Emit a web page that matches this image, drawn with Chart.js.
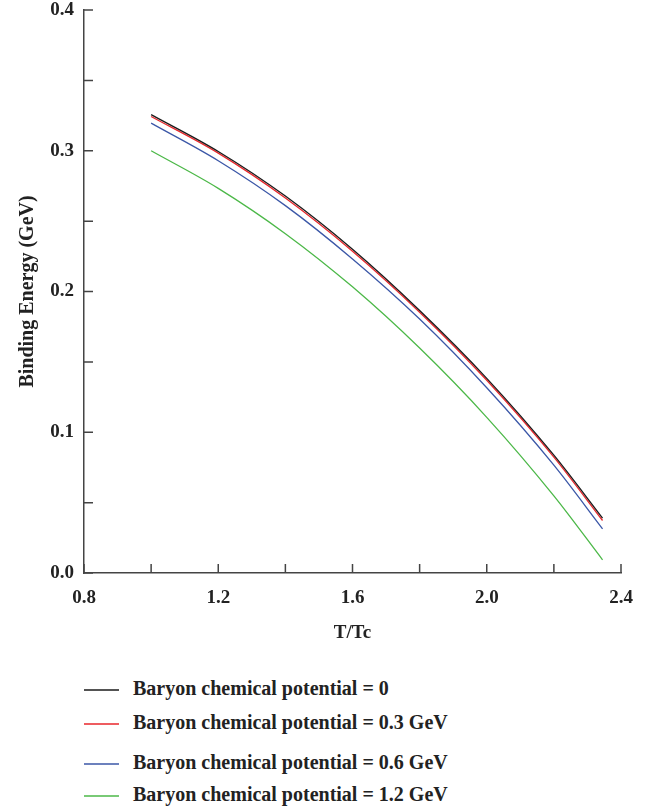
<!DOCTYPE html>
<html>
<head>
<meta charset="utf-8">
<script src="https://cdn.jsdelivr.net/npm/chart.js@4.4.1/dist/chart.umd.min.js"></script>
<style>
  body { margin: 0; background: #fff; }
  #wrap { position: relative; width: 653px; height: 810px; }
  #chart { position: absolute; left: 0; top: 0; }
  .leg { position: absolute; left: 84px; font: bold 20px "Liberation Serif", serif; color: #222; white-space: nowrap; height: 24px; line-height: 24px; }
  .leg svg { vertical-align: middle; margin-right: 14px; }
</style>
</head>
<body>
<div id="wrap">
  <canvas id="chart" width="653" height="650"></canvas>
  <div id="legend"></div>
</div>
<script>
// T/Tc sample points
const temps = [1.0, 1.2, 1.4, 1.6, 1.8, 2.0, 2.2, 2.345];

// binding energy (GeV) for each baryon chemical potential
const mu0 = [0.3257, 0.2995, 0.2678, 0.2300, 0.1865, 0.1383, 0.0837, 0.0390];
const mu03 = [0.3243, 0.2983, 0.2664, 0.2286, 0.1853, 0.1369, 0.0823, 0.0373];
const mu06 = [0.3196, 0.2929, 0.2610, 0.2231, 0.1804, 0.1316, 0.0766, 0.0314];
const mu12 = [0.3000, 0.2733, 0.2411, 0.2033, 0.1598, 0.1106, 0.0548, 0.0094];

const seriesLabels = [
  "Baryon chemical potential = 0",
  "Baryon chemical potential = 0.3 GeV",
  "Baryon chemical potential = 0.6 GeV",
  "Baryon chemical potential = 1.2 GeV",
];
const seriesColors = ["#1a1a1a", "#e8262b", "#3b57a7", "#4cb848"];
const seriesData = [mu0, mu03, mu06, mu12];

const xLabels = [0.8, 1.2, 1.6, 2.0, 2.4];
const yLabels = [0.0, 0.1, 0.2, 0.3, 0.4];

const serif = "'Liberation Serif', 'DejaVu Serif', serif";
const axisColor = "#444";

// ticks drawn inward from the axis lines
const innerTicks = {
  id: "innerTicks",
  afterDraw(chart) {
    const ctx = chart.ctx;
    const area = chart.chartArea;
    const x = chart.scales.x;
    const y = chart.scales.y;
    ctx.save();
    ctx.strokeStyle = axisColor;
    ctx.lineWidth = 1.5;
    ctx.beginPath();
    x.ticks.forEach((t) => {
      const px = x.getPixelForValue(t.value);
      ctx.moveTo(px, area.bottom);
      ctx.lineTo(px, area.bottom - 9);
    });
    y.ticks.forEach((t) => {
      const py = y.getPixelForValue(t.value);
      ctx.moveTo(area.left, py);
      ctx.lineTo(area.left + 9, py);
    });
    ctx.stroke();
    ctx.restore();
  },
};

new Chart(document.getElementById("chart"), {
  type: "line",
  data: {
    datasets: seriesData.map((vals, i) => ({
      label: seriesLabels[i],
      data: temps.map((t, j) => ({ x: t, y: vals[j] })),
      borderColor: seriesColors[i],
      borderWidth: 1.3,
      pointRadius: 0,
      fill: false,
      cubicInterpolationMode: "monotone",
    })),
  },
  options: {
    responsive: false,
    animation: false,
    layout: { padding: { top: 10, right: 32, left: 0, bottom: 0 } },
    plugins: { legend: { display: false }, tooltip: { enabled: false } },
    scales: {
      x: {
        type: "linear",
        min: 0.8,
        max: 2.4,
        afterFit: (s) => { s.height = 77; },
        afterBuildTicks: (s) => {
          const t = [];
          for (let v = 0.8; v <= 2.4001; v += 0.2) t.push({ value: +v.toFixed(1) });
          s.ticks = t;
        },
        grid: { display: false, drawTicks: false },
        border: { display: true, color: axisColor, width: 1.5 },
        ticks: {
          padding: 14,
          color: "#222",
          font: { family: serif, size: 19, weight: "bold" },
          callback: (v) => {
            const hit = xLabels.find((l) => Math.abs(l - v) < 1e-6);
            return hit === undefined ? "" : hit.toFixed(1);
          },
        },
        title: {
          display: true,
          text: "T/Tc",
          color: "#222",
          font: { family: serif, size: 19, weight: "bold" },
          padding: { top: 4, bottom: 6 },
        },
      },
      y: {
        type: "linear",
        min: 0,
        max: 0.4,
        afterFit: (s) => {
          s.width = 84;
          // let the plot start right under the top padding
          s.paddingTop = 0;
          s.paddingBottom = 0;
        },
        afterBuildTicks: (s) => {
          const t = [];
          for (let v = 0; v <= 0.4001; v += 0.05) t.push({ value: +v.toFixed(2) });
          s.ticks = t;
        },
        grid: { display: false, drawTicks: false },
        border: { display: true, color: axisColor, width: 1.5 },
        ticks: {
          padding: 10,
          color: "#222",
          font: { family: serif, size: 19, weight: "bold" },
          callback: (v) => {
            const hit = yLabels.find((l) => Math.abs(l - v) < 1e-6);
            return hit === undefined ? "" : hit.toFixed(1);
          },
        },
        title: {
          display: true,
          text: "Binding Energy (GeV)",
          color: "#222",
          font: { family: serif, size: 20, weight: "bold" },
          padding: { top: 16, bottom: 0 },
        },
      },
    },
  },
  plugins: [innerTicks],
});

// legend below the chart, one entry per row
const legendTops = [676, 710, 750, 782];
const legend = document.getElementById("legend");
seriesLabels.forEach((label, i) => {
  const row = document.createElement("div");
  row.className = "leg";
  row.style.top = legendTops[i] + "px";
  row.innerHTML =
    `<svg width="35" height="4"><line x1="0" y1="2" x2="35" y2="2" stroke="${seriesColors[i]}" stroke-width="1.6"/></svg>` +
    label;
  legend.appendChild(row);
});
</script>
</body>
</html>
